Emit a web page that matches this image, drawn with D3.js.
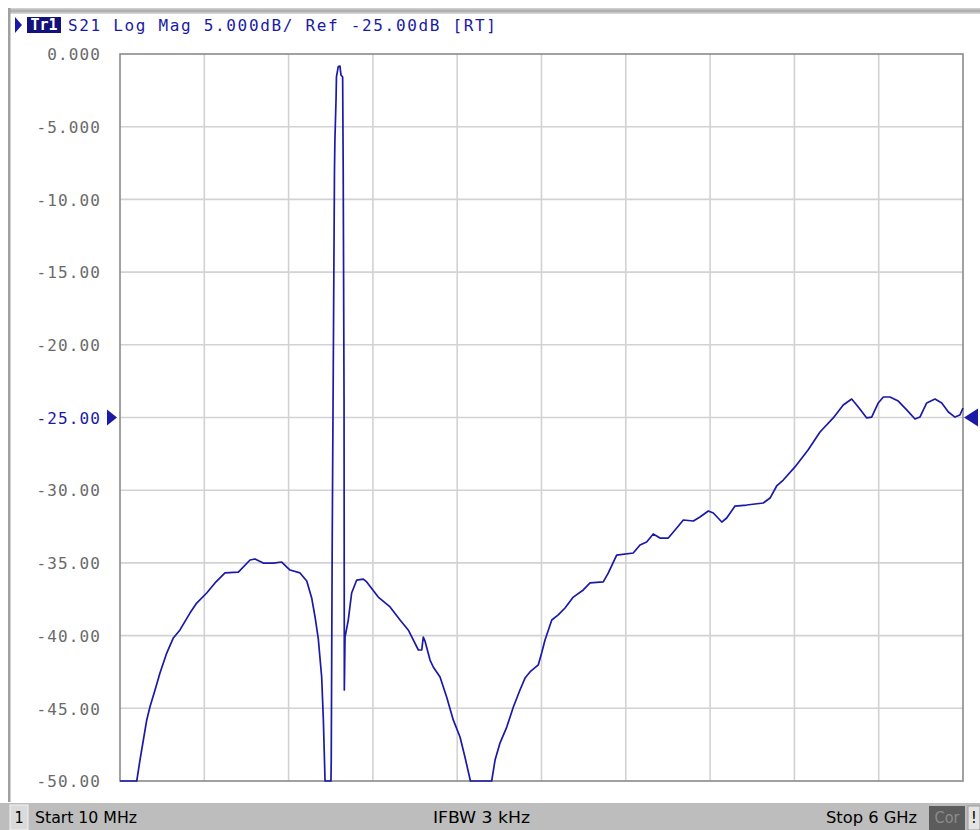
<!DOCTYPE html>
<html>
<head>
<meta charset="utf-8">
<script src="https://cdn.jsdelivr.net/npm/d3@7"></script>
<style>
  html, body { margin: 0; padding: 0; background: #ffffff; }
  svg { display: block; }
</style>
</head>
<body>
<svg id="chart" width="980" height="830"></svg>
<script>
// ---- data (frequency in MHz, S21 in dB) ----
const freqMHz = [
  10, 129, 152, 176, 200, 223, 259, 294, 342, 389, 436, 507, 555, 626, 685, 756, 851, 934, 969, 1028,
  1099, 1159, 1218, 1289, 1337, 1372, 1396, 1419, 1443, 1455, 1467, 1509, 1511, 1518, 1534, 1537, 1545, 1548, 1561, 1573,
  1580, 1592, 1596, 1602, 1604, 1609, 1632, 1656, 1692, 1739, 1763, 1845, 1929, 2000, 2058, 2094, 2130, 2154, 2165, 2177,
  2213, 2236, 2284, 2331, 2378, 2426, 2461, 2500, 2651, 2675, 2710, 2758, 2805, 2852, 2888, 2923, 2982, 3006, 3030, 3078,
  3124, 3172, 3231, 3302, 3350, 3444, 3480, 3539, 3657, 3705, 3752, 3799, 3847, 3906, 3954, 4013, 4084, 4131, 4190, 4226,
  4286, 4321, 4380, 4463, 4581, 4629, 4676, 4723, 4806, 4899, 4984, 5078, 5149, 5209, 5256, 5316, 5351, 5398, 5434, 5481,
  5540, 5600, 5659, 5694, 5742, 5801, 5849, 5896, 5943, 5978, 6000
];
const s21dB = [
  -50, -50, -48.56, -47.18, -45.80, -44.89, -43.74, -42.57, -41.20, -40.16, -39.61, -38.45, -37.76, -37.07, -36.38, -35.69, -35.63, -34.80, -34.73, -35.01,
  -35.01, -34.94, -35.49, -35.69, -36.24, -37.41, -38.72, -40.23, -42.85, -45.80, -50, -50, -48.56, -33.43, -7.98, -5.91, -3.16, -1.58, -0.87, -0.83,
  -1.44, -1.58, -7.98, -23.80, -43.74, -40.10, -38.93, -37.07, -36.18, -36.11, -36.31, -37.35, -38.03, -38.93, -39.61, -40.30, -40.99, -40.99, -40.10, -40.37,
  -41.68, -42.16, -42.85, -44.22, -45.80, -46.97, -48.35, -50, -50, -48.56, -47.39, -46.29, -44.91, -43.74, -42.92, -42.50, -42.02, -41.20, -40.30, -38.93,
  -38.58, -38.10, -37.35, -36.86, -36.38, -36.31, -35.69, -34.46, -34.32, -33.77, -33.56, -33.01, -33.29, -33.29, -32.74, -32.05, -32.12, -31.84, -31.43, -31.57,
  -32.19, -31.91, -31.09, -31.02, -30.88, -30.54, -29.71, -29.30, -28.40, -27.24, -26.00, -25.03, -24.14, -23.73, -24.28, -25.03, -24.97, -24.00, -23.59, -23.59,
  -23.87, -24.48, -25.10, -24.97, -24.00, -23.73, -24.00, -24.62, -24.97, -24.83, -24.35
];
const yTicks = [0, -5, -10, -15, -20, -25, -30, -35, -40, -45, -50];
const yTickLabels = ["0.000", "-5.000", "-10.00", "-15.00", "-20.00", "-25.00", "-30.00", "-35.00", "-40.00", "-45.00", "-50.00"];
const xGridMHz = [10, 609, 1208, 1807, 2406, 3005, 3604, 4203, 4802, 5401, 6000];
const refLevel = -25;
const titleText = "S21 Log Mag 5.000dB/ Ref -25.00dB [RT]";
const traceName = "Tr1";
const statusTexts = { ch: "1", start: "Start 10 MHz", ifbw: "IFBW 3 kHz", stop: "Stop 6 GHz", cor: "Cor", warn: "!" };

// ---- layout ----
const L = 120, R = 963, T = 54, B = 781;
const svg = d3.select("#chart");
const x = d3.scaleLinear().domain([10, 6000]).range([L, R]);
const y = d3.scaleLinear().domain([-50, 0]).range([B, T]);

const blue = "#1a1aa6";
const mono = "'DejaVu Sans Mono', 'Liberation Mono', monospace";

// outer frame decoration
const topGrad = svg.append("defs").append("linearGradient").attr("id", "tg").attr("x1", 0).attr("y1", 0).attr("x2", 0).attr("y2", 1);
topGrad.append("stop").attr("offset", "0%").attr("stop-color", "#d8d8d8");
topGrad.append("stop").attr("offset", "50%").attr("stop-color", "#a8a8a8");
topGrad.append("stop").attr("offset", "100%").attr("stop-color", "#e0e0e0");
svg.append("rect").attr("x", 8).attr("y", 8).attr("width", 972).attr("height", 6).attr("fill", "url(#tg)");
svg.append("rect").attr("x", 8).attr("y", 8).attr("width", 2.5).attr("height", 794).attr("fill", "#a0a0a0");

// grid
const grid = svg.append("g");
grid.selectAll("line.vx").data(xGridMHz.slice(1, -1)).enter().append("line")
  .attr("x1", d => x(d)).attr("x2", d => x(d)).attr("y1", T).attr("y2", B)
  .attr("stroke", "#d2d2d2").attr("stroke-width", 1.6);
grid.selectAll("line.hy").data(yTicks.slice(1, -1)).enter().append("line")
  .attr("x1", L).attr("x2", R).attr("y1", d => y(d)).attr("y2", d => y(d))
  .attr("stroke", "#d2d2d2").attr("stroke-width", 1.6);

// plot frame
svg.append("rect").attr("x", L).attr("y", T).attr("width", R - L).attr("height", B - T)
  .attr("fill", "none").attr("stroke", "#8a8a8a").attr("stroke-width", 1.6);

// y axis labels via d3 axis
const yAxis = d3.axisLeft(y).tickValues(yTicks).tickSize(0).tickPadding(0)
  .tickFormat((d, i) => yTickLabels[i]);
const ya = svg.append("g").attr("transform", `translate(${L - 19},0)`).call(yAxis);
ya.select(".domain").remove();
ya.selectAll("text")
  .attr("font-family", mono).attr("font-size", 16).attr("letter-spacing", "1.1px")
  .attr("fill", d => d === refLevel ? blue : "#6a6a6a")
  .attr("dy", "0.36em");

// trace
svg.append("clipPath").attr("id", "clip").append("rect")
  .attr("x", L).attr("y", T - 2).attr("width", R - L + 2).attr("height", B - T + 3);
const line = d3.line().x((d, i) => x(freqMHz[i])).y(d => y(d));
svg.append("path").datum(s21dB).attr("clip-path", "url(#clip)")
  .attr("d", line).attr("fill", "none").attr("stroke", blue).attr("stroke-width", 1.7)
  .attr("stroke-linejoin", "round");

// reference markers
const yr = y(refLevel);
svg.append("path").attr("d", `M${L - 13},${yr - 8} L${L - 3},${yr} L${L - 13},${yr + 8} Z`).attr("fill", blue);
svg.append("path").attr("d", `M${R + 15},${yr - 9} L${R + 1},${yr} L${R + 15},${yr + 9} Z`).attr("fill", blue);

// title
svg.append("path").attr("d", "M15,17 L22,25 L15,33 Z").attr("fill", blue);
svg.append("rect").attr("x", 27).attr("y", 17).attr("width", 34).attr("height", 16).attr("fill", "#12127a");
svg.append("text").attr("x", 44).attr("y", 30).attr("text-anchor", "middle")
  .attr("font-family", mono).attr("font-size", 15).attr("font-weight", "bold").attr("fill", "#ffffff")
  .text(traceName);
svg.append("text").attr("x", 68).attr("y", 31)
  .attr("font-family", mono).attr("font-size", 16).attr("fill", blue)
  .attr("textLength", 428).attr("lengthAdjust", "spacing")
  .text(titleText);

// status bar
const sb = svg.append("g");
sb.append("rect").attr("x", 0).attr("y", 803).attr("width", 980).attr("height", 27).attr("fill", "#bdbdbd");
sb.append("rect").attr("x", 10).attr("y", 805).attr("width", 18).attr("height", 25).attr("fill", "#dadada").attr("stroke", "#f4f4f4");
const sans = "'DejaVu Sans Condensed', 'Liberation Sans', Arial, sans-serif";
function sbText(txt, xx, len, anchor, fill) {
  const t = sb.append("text").attr("x", xx).attr("y", 823).attr("font-family", sans).attr("font-size", 16)
    .attr("fill", fill || "#000").attr("text-anchor", anchor || "start").text(txt);
  if (len) t.attr("textLength", len).attr("lengthAdjust", "spacingAndGlyphs");
  return t;
}
sbText(statusTexts.ch, 19, null, "middle");
sbText(statusTexts.start, 35, 102);
sbText(statusTexts.ifbw, 433, 97);
sbText(statusTexts.stop, 826, 91);
sb.append("rect").attr("x", 929).attr("y", 806).attr("width", 36).attr("height", 24).attr("fill", "#5c5c5c");
sbText(statusTexts.cor, 947, null, "middle", "#8c8c8c");
sb.append("rect").attr("x", 968).attr("y", 806).attr("width", 12).attr("height", 24).attr("fill", "#e4e4e4").attr("stroke", "#9a9a9a");
sbText(statusTexts.warn, 974, null, "middle");
</script>
</body>
</html>
